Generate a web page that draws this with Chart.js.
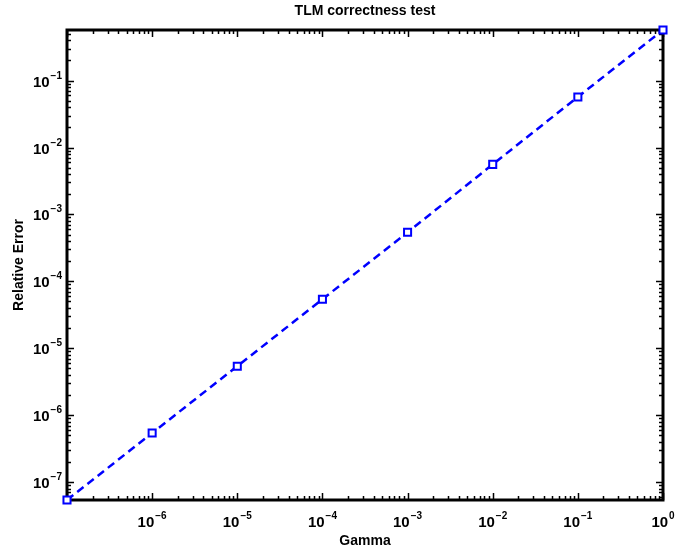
<!DOCTYPE html>
<html>
<head>
<meta charset="utf-8">
<script src="https://cdn.jsdelivr.net/npm/chart.js@4.4.1/dist/chart.umd.min.js"></script>
<style>
html,body{margin:0;padding:0;background:#fff;}
#wrap{width:675px;height:549px;position:relative;}
</style>
</head>
<body>
<div id="wrap"><canvas id="c" width="675" height="549"></canvas></div>
<script>
// ---- data ----
const gammaValues = [1e-7, 1e-6, 1e-5, 1e-4, 1e-3, 1e-2, 1e-1, 1];
const relativeError = [5.4e-8, 5.4e-7, 5.4e-6, 5.4e-5, 5.4e-4, 5.6e-3, 5.7e-2, 0.57];
const xTickExponents = [-6, -5, -4, -3, -2, -1, 0];
const yTickExponents = [-7, -6, -5, -4, -3, -2, -1];
const titleText = 'TLM correctness test';
const xTitle = 'Gamma';
const yTitle = 'Relative Error';

const FONT = '"Liberation Sans", Arial, Helvetica, sans-serif';

function minorValues(min, max) {
  const out = [];
  const e0 = Math.floor(Math.log10(min)), e1 = Math.ceil(Math.log10(max));
  for (let e = e0; e <= e1; e++) {
    for (let m = 1; m <= 9; m++) {
      const v = m * Math.pow(10, e);
      if (v >= min * 0.9999 && v <= max * 1.0001) out.push({v, major: m === 1});
    }
  }
  return out;
}

function drawPow(ctx, x, y, exp, align) {
  // draws "10" with superscript exponent; align 'center' (x center) or 'right' (x right edge); y = baseline of "10"
  const base = 'bold 15px ' + FONT;
  const sup = 'bold 10px ' + FONT;
  const expStr = (exp < 0 ? '\u2212' : '') + Math.abs(exp);
  ctx.font = base;
  const wb = ctx.measureText('10').width;
  ctx.font = sup;
  const we = ctx.measureText(expStr).width;
  const total = wb + we + 1;
  let x0 = align === 'center' ? x - total / 2 : x - total;
  ctx.fillStyle = '#000';
  ctx.textAlign = 'left';
  ctx.textBaseline = 'alphabetic';
  ctx.font = base;
  ctx.fillText('10', x0, y);
  ctx.font = sup;
  ctx.fillText(expStr, x0 + wb + 1, y - 8);
}

const axesPlugin = {
  id: 'matlabAxes',
  beforeDatasetsDraw(chart) {
    const ctx = chart.ctx;
    const a = chart.chartArea;
    const xs = chart.scales.x, ys = chart.scales.y;
    ctx.save();
    ctx.strokeStyle = '#000';
    ctx.lineWidth = 1.5;
    // x ticks
    for (const t of minorValues(xs.min, xs.max)) {
      const px = Math.round(xs.getPixelForValue(t.v)) + 0.5;
      const len = t.major ? 7 : 4;
      ctx.beginPath();
      ctx.moveTo(px, a.bottom); ctx.lineTo(px, a.bottom - len);
      ctx.moveTo(px, a.top); ctx.lineTo(px, a.top + len);
      ctx.stroke();
    }
    for (const t of minorValues(ys.min, ys.max)) {
      const py = Math.round(ys.getPixelForValue(t.v)) + 0.5;
      const len = t.major ? 7 : 4;
      ctx.beginPath();
      ctx.moveTo(a.left, py); ctx.lineTo(a.left + len, py);
      ctx.moveTo(a.right, py); ctx.lineTo(a.right - len, py);
      ctx.stroke();
    }
    // box
    ctx.lineWidth = 3;
    ctx.strokeRect(a.left, a.top, a.right - a.left, a.bottom - a.top);
    ctx.restore();
  },
  afterDraw(chart) {
    const ctx = chart.ctx;
    const a = chart.chartArea;
    const xs = chart.scales.x, ys = chart.scales.y;
    ctx.save();
    for (const e of xTickExponents) {
      const px = xs.getPixelForValue(Math.pow(10, e));
      drawPow(ctx, px, a.bottom + 27, e, 'center');
    }
    for (const e of yTickExponents) {
      const py = ys.getPixelForValue(Math.pow(10, e));
      drawPow(ctx, a.left - 5, py + 6, e, 'right');
    }
    ctx.fillStyle = '#000';
    ctx.textAlign = 'center';
    ctx.textBaseline = 'alphabetic';
    ctx.font = 'bold 14px ' + FONT;
    ctx.fillText(titleText, (a.left + a.right) / 2, 15);
    ctx.fillText(xTitle, (a.left + a.right) / 2, 545);
    ctx.translate(23, (a.top + a.bottom) / 2);
    ctx.rotate(-Math.PI / 2);
    ctx.fillText(yTitle, 0, 0);
    ctx.restore();
  }
};

new Chart(document.getElementById('c'), {
  type: 'scatter',
  data: {
    datasets: [{
      data: gammaValues.map((g, i) => ({x: g, y: relativeError[i]})),
      showLine: true,
      borderColor: '#0000ff',
      borderWidth: 2.5,
      borderDash: [8, 5],
      pointStyle: 'rect',
      pointRadius: 5,
      pointBorderWidth: 2,
      pointBorderColor: '#0000ff',
      pointBackgroundColor: '#ffffff',
      pointHoverRadius: 5,
      clip: false
    }]
  },
  options: {
    responsive: false,
    animation: false,
    events: [],
    layout: {padding: {left: 67, right: 12, top: 30, bottom: 49}},
    plugins: {legend: {display: false}, tooltip: {enabled: false}, title: {display: false}},
    scales: {
      x: {type: 'logarithmic', min: 1e-7, max: 1, display: false},
      y: {type: 'logarithmic', min: relativeError[0], max: relativeError[relativeError.length - 1], display: false}
    }
  },
  plugins: [axesPlugin]
});
</script>
</body>
</html>
